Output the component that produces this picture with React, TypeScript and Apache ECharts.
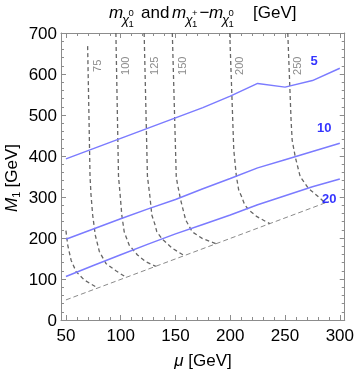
import React, { useEffect, useRef } from "react";
import * as echarts from "echarts";

const FONT = "'Liberation Sans', Arial, sans-serif";
const FRAME = "#8c8c8c";

// axis ticks
const xMajorTicks = [50, 100, 150, 200, 250, 300];
const xMinorTicks = [60, 70, 80, 90, 110, 120, 130, 140, 160, 170, 180, 190, 210, 220, 230, 240, 260, 270, 280, 290];

// blue solid lines (mass splitting contours) [mu, M1]
const line5 = [[50, 393], [75, 418], [100, 443], [125, 468], [150, 493], [175, 518], [200, 546], [225, 577], [250, 568], [275, 584], [300, 614]];
const line10 = [[50, 197], [75, 222], [100, 247], [125, 271], [150, 294], [175, 320], [200, 345], [225, 371], [250, 391], [275, 411], [300, 431]];
const line20 = [[50, 106], [75, 133], [100, 159], [125, 185], [150, 210], [175, 233], [200, 256], [225, 281], [250, 303], [275, 325], [300, 344]];

// gray dashed contours of neutralino mass [mu, M1]
const c50 = [[50, 218], [51.6, 183], [54.7, 146], [59.3, 118], [66.8, 97.6], [79, 78]];
const c75 = [[69.8, 668], [71, 500], [72, 350], [72.9, 305], [74.4, 256], [76.8, 207], [80.5, 167], [86.5, 138], [95.6, 120], [105, 104]];
const c100 = [[95.6, 700], [98, 350], [99.5, 305], [101, 256], [103.2, 215], [107.7, 183], [115.3, 158.5], [122.9, 142], [132, 131]];
const c125 = [[121.4, 700], [124.4, 350], [126.5, 305], [128.4, 256], [131, 235], [133, 215], [138, 197], [147, 175], [158, 157]];
const c150 = [[147.1, 700], [150.7, 350], [151.7, 333], [154.7, 293], [159.3, 244], [165.3, 215], [174.4, 199], [187, 186]];
const c200 = [[199.5, 700], [203.2, 415], [205.6, 350], [207.7, 317], [210.5, 300], [213, 282], [217, 268], [224.4, 252], [236, 235]];
const c250 = [[252.5, 700], [254.7, 545], [255.5, 488], [256.5, 439], [259.3, 398], [263.8, 350], [271.4, 321], [282, 297], [286, 287]];
const diagonal = [[50, 49], [290, 289]];

// labels
const contourLabels = [
  { name: "75", value: [78.5, 620] },
  { name: "100", value: [104.3, 620] },
  { name: "125", value: [130.4, 620] },
  { name: "150", value: [156.2, 620] },
  { name: "200", value: [208.2, 620] },
  { name: "250", value: [260.7, 620] },
];
const splitLabels = [
  { name: "5", value: [276.5, 634] },
  { name: "10", value: [285.8, 469] },
  { name: "20", value: [290.4, 297] },
];

export default function App() {
  const ref = useRef<HTMLDivElement>(null);
  useEffect(() => {
    const chart = echarts.init(ref.current!, null, { renderer: "svg" });

    const xBase = { type: "value", min: 45.5, max: 304.5, gridIndex: 0, offset: 0, splitLine: { show: false } };
    const contourStyle = { color: "#666", width: 1.3, type: [4, 3] };
    const blueStyle = { color: "#7b7bff", width: 1.5 };
    const mkLine = (data: number[][], style: any, z = 2) => ({
      type: "line",
      data,
      showSymbol: false,
      symbol: "none",
      silent: true,
      lineStyle: style,
      z,
    });

    const titleY = 12;
    const subFont = (size: number, italic = false) => ({
      fontSize: size,
      fontFamily: FONT,
      fontStyle: italic ? "italic" : "normal",
      fill: "#000",
      verticalAlign: "middle",
      align: "left",
    });
    const chiBlock = (x: number, sup: string) => [
      { type: "text", x, y: 19.8, style: { text: "χ", ...subFont(13, true) } },
      { type: "text", x: x + 6.5, y: 12.3, style: { text: sup, ...subFont(9.5) } },
      { type: "text", x: x + 6.5, y: 23.2, style: { text: "1", ...subFont(9.5) } },
    ];

    chart.setOption({
      animation: false,
      grid: { left: 61, right: 10, top: 33, bottom: 53, containLabel: false },
      xAxis: [
        {
          ...xBase,
          position: "bottom",
          axisLine: { show: true, lineStyle: { color: FRAME, width: 1 } },
          axisTick: { show: true, inside: true, length: 5, customValues: xMajorTicks, lineStyle: { color: FRAME } },
          axisLabel: { customValues: xMajorTicks, color: "#000", fontSize: 17, fontFamily: FONT, margin: 7 },
        },
        {
          ...xBase,
          position: "bottom",
          axisLine: { show: false },
          axisTick: { show: true, inside: true, length: 3, customValues: xMinorTicks, lineStyle: { color: FRAME } },
          axisLabel: { show: false },
        },
        {
          ...xBase,
          position: "top",
          axisLine: { show: true, lineStyle: { color: FRAME, width: 1 } },
          axisTick: { show: true, inside: true, length: 5, customValues: xMajorTicks, lineStyle: { color: FRAME } },
          axisLabel: { show: false },
        },
        {
          ...xBase,
          position: "top",
          axisLine: { show: false },
          axisTick: { show: true, inside: true, length: 3, customValues: xMinorTicks, lineStyle: { color: FRAME } },
          axisLabel: { show: false },
        },
      ],
      yAxis: [
        {
          type: "value",
          min: 0,
          max: 700,
          interval: 100,
          position: "left",
          offset: 0,
          splitLine: { show: false },
          axisLine: { show: true, lineStyle: { color: FRAME, width: 1 } },
          axisTick: { show: true, inside: true, length: 5, lineStyle: { color: FRAME } },
          minorTick: { show: true, splitNumber: 5, length: 3, lineStyle: { color: FRAME } },
          axisLabel: { color: "#000", fontSize: 17, fontFamily: FONT, margin: 4 },
        },
        {
          type: "value",
          min: 0,
          max: 700,
          interval: 100,
          position: "right",
          offset: 0,
          splitLine: { show: false },
          axisLine: { show: true, lineStyle: { color: FRAME, width: 1 } },
          axisTick: { show: true, inside: true, length: 5, lineStyle: { color: FRAME } },
          minorTick: { show: true, splitNumber: 5, length: 3, lineStyle: { color: FRAME } },
          axisLabel: { show: false },
        },
      ],
      series: [
        mkLine(diagonal, { color: "#8a8a8a", width: 1, type: [5, 3] }),
        mkLine(c50, contourStyle),
        mkLine(c75, contourStyle),
        mkLine(c100, contourStyle),
        mkLine(c125, contourStyle),
        mkLine(c150, contourStyle),
        mkLine(c200, contourStyle),
        mkLine(c250, contourStyle),
        mkLine(line5, blueStyle, 3),
        mkLine(line10, blueStyle, 3),
        mkLine(line20, blueStyle, 3),
        {
          type: "scatter",
          data: contourLabels,
          symbolSize: 1,
          itemStyle: { color: "rgba(0,0,0,0)" },
          silent: true,
          z: 4,
          label: {
            show: true,
            position: "inside",
            rotate: 90,
            formatter: "{b}",
            fontSize: 11,
            fontFamily: FONT,
            color: "#6e6e6e",
          },
        },
        {
          type: "scatter",
          data: splitLabels,
          symbolSize: 1,
          itemStyle: { color: "rgba(0,0,0,0)" },
          silent: true,
          z: 4,
          label: {
            show: true,
            position: "inside",
            formatter: "{b}",
            fontSize: 13,
            fontWeight: "bold",
            fontFamily: FONT,
            color: "#0000ff",
          },
        },
      ],
      graphic: [
        // title
        { type: "text", x: 109, y: titleY, style: { text: "m", ...subFont(17, true) } },
        ...chiBlock(122, "0"),
        { type: "text", x: 141, y: titleY, style: { text: "and", ...subFont(17) } },
        { type: "text", x: 172, y: titleY, style: { text: "m", ...subFont(17, true) } },
        ...chiBlock(185.5, "+"),
        { type: "text", x: 199.5, y: titleY, style: { text: "−", ...subFont(17) } },
        { type: "text", x: 209, y: titleY, style: { text: "m", ...subFont(17, true) } },
        ...chiBlock(222, "0"),
        { type: "text", x: 253, y: titleY, style: { text: "[GeV]", ...subFont(17) } },
        // x axis name
        {
          type: "text",
          x: 203,
          y: 360.5,
          style: {
            text: "{i|μ} [GeV]",
            fontSize: 17,
            fontFamily: FONT,
            fill: "#000",
            align: "center",
            verticalAlign: "middle",
            rich: { i: { fontStyle: "italic", fontSize: 17, fontFamily: FONT } },
          },
        },
        // y axis name
        {
          type: "group",
          x: 11,
          y: 177,
          rotation: Math.PI / 2,
          children: [
            { type: "text", x: -35, y: 0, style: { text: "M", ...subFont(17, true) } },
            { type: "text", x: -20.8, y: 4.5, style: { text: "1", ...subFont(11) } },
            { type: "text", x: -10.5, y: 0, style: { text: "[GeV]", ...subFont(17) } },
          ],
        },
      ],
    });
    return () => chart.dispose();
  }, []);
  return <div ref={ref} style={{ position: "fixed", left: 0, top: 0, width: 357, height: 373 }} />;
}
